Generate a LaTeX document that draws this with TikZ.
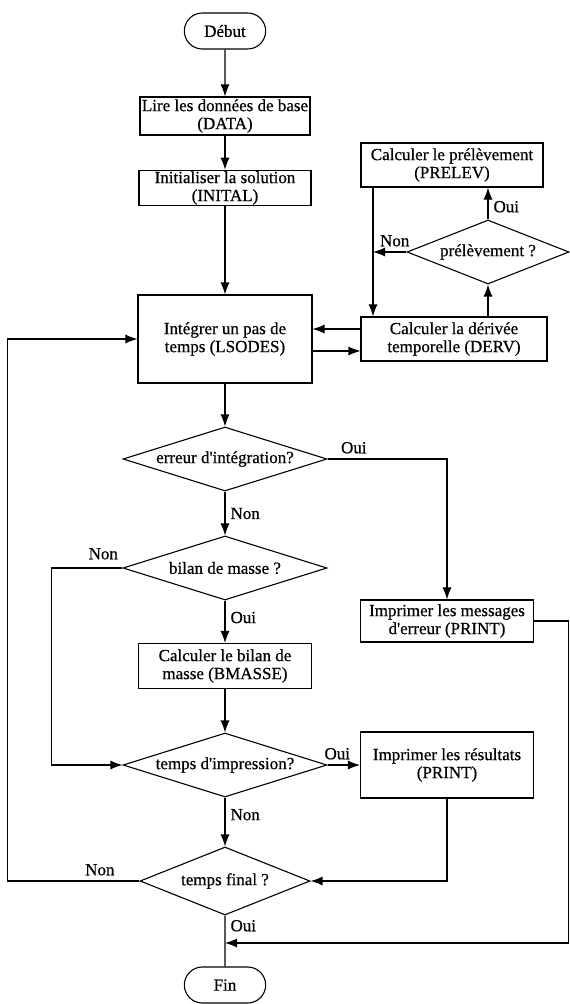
\documentclass[tikz,border=0pt]{standalone}
\usepackage{fontspec}
\setmainfont{Liberation Serif}[BoldFont={Liberation Serif}, BoldFeatures={FakeBold=0.6}]
\usepackage{tikz}
\usetikzlibrary{arrows.meta}
\usetikzlibrary{positioning}
\usetikzlibrary{shapes.misc}
\usetikzlibrary{shapes.geometric}
\tikzset{>={Latex[length=12pt,width=9pt]}}
\newcommand\boxwidth{173pt}
\newcommand\decwidth{204pt}
\newcommand\decheight{64pt}
\newcommand\apos{\textquotesingle}
\tikzset{
    terminal/.style={draw, rounded rectangle, minimum width=88pt, minimum height=36pt},
    process/.style={draw, align=center, minimum width=\boxwidth, inner sep=1pt},
    decision/.style={draw, diamond, aspect=3, inner sep=0pt, minimum width=\decwidth, minimum height=\decheight},
    answer/.style={inner sep=5pt},
}

\begin{document}
\begin{tikzpicture}[x=1pt, y=-1pt, line width=1.1pt, on grid,
        every node/.style={font=\fontsize{17pt}{18pt}\selectfont\bfseries}]
    \useasboundingbox (0,0) rectangle (570,1004);
    % colonne principale
    \node[terminal] (debut) at (225,31) {Début};
    \node[process, minimum width=170pt, minimum height=38pt, below=85pt of debut] (data) {Lire les données de base\\(DATA)};
    \node[process, minimum width=172pt, minimum height=32pt, below=72pt of data] (inital) {Initialiser la solution\\(INITAL)};
    \node[process, minimum width=174pt, minimum height=88pt, below=151pt of inital] (lsodes) {Intégrer un pas de\\temps (LSODES)};
    \node[decision, below=120pt of lsodes] (erreur) {erreur d\apos intégration?};
    \node[decision, below=109pt of erreur] (bilan) {bilan de masse ?};
    \node[process, minimum height=45pt, below=98pt of bilan] (bmasse) {Calculer le bilan de\\masse (BMASSE)};
    \node[decision, below=99pt of bmasse] (timp) {temps d\apos impression?};
    \node[decision, minimum width=170pt, minimum height=68pt, below=116pt of timp] (tfinal) {temps final ?};
    \node[terminal, below=104pt of tfinal] (fin) {Fin};
    % colonne de droite
    \node[process, minimum width=186pt, minimum height=44pt, right=229pt of lsodes] (derv) {Calculer la dérivée\\temporelle (DERV)};
    \node[decision, minimum width=162pt] (prel) at (488,252) {prélèvement ?};
    \node[process, minimum width=182pt, minimum height=44pt] (prelev) at (452,165) {Calculer le prélèvement\\(PRELEV)};
    \node[process, minimum height=42pt] (messages) at (447,621) {Imprimer les messages\\d\apos erreur (PRINT)};
    \node[process, minimum height=66pt, right=222pt of timp] (resultats) {Imprimer les résultats\\(PRINT)};
    \coordinate (nonx) at (373,252);
    \coordinate (jfin) at (225,943);

    \draw[->] (debut) -- (data);
    \draw[->] (data) -- (inital);
    \draw[->] (inital) -- (lsodes);
    \draw[->] (lsodes) -- (erreur);
    \draw[->] (erreur) -- node[answer, right] (nonerr) {Non} (bilan);
    \draw[->] (bilan) -- node[answer, right, pos=0.4] (ouibil) {Oui} (bmasse);
    \draw[->] (bmasse) -- (timp);
    \draw[->] (timp) -- node[answer, right, pos=0.35] (nonimp) {Non} (tfinal);
    \draw (tfinal) -- node[answer, right, pos=0.2] (ouifin) {Oui} (fin);

    % boucle du pas de temps
    \draw[->] ([yshift=10pt]derv.west) -- ([yshift=10pt]lsodes.east);
    \draw[->] ([yshift=-12pt]lsodes.east) -- ([yshift=-12pt]derv.west);
    \draw[->] (derv.north -| prel) -- (prel.south);
    \draw[->] (prel.north) -- node[answer, right, pos=0.4] (ouiprel) {Oui} (prel.north |- prelev.south);
    \draw[->] (prel.west) -- node[answer, above, pos=0.35] (nonprel) {Non} (nonx);
    \draw[->] (nonx |- prelev.south) -- (nonx |- derv.north);

    % branches
    \draw[->] (erreur.east) -- node[answer, above, pos=0.22] (ouierr) {Oui} (erreur.east -| messages) -- (messages.north);
    \draw[->] (bilan.west) -- node[answer, above, pos=0.27, inner sep=8pt] (nonbil) {Non} ++(-71,0) |- (timp.west);
    \draw[->] (timp.east) -- node[answer, above, pos=0.3] (ouiimp) {Oui} (resultats.west);
    \draw[->] (resultats.south) |- (tfinal.east);
    \draw[->] (tfinal.west) -- node[answer, above, pos=0.3] (nonfin) {Non} ++(-132,0) |- (lsodes.west);
    \draw[->] (messages.east) -- ++(34,0) |- (jfin);
\end{tikzpicture}
\end{document}
